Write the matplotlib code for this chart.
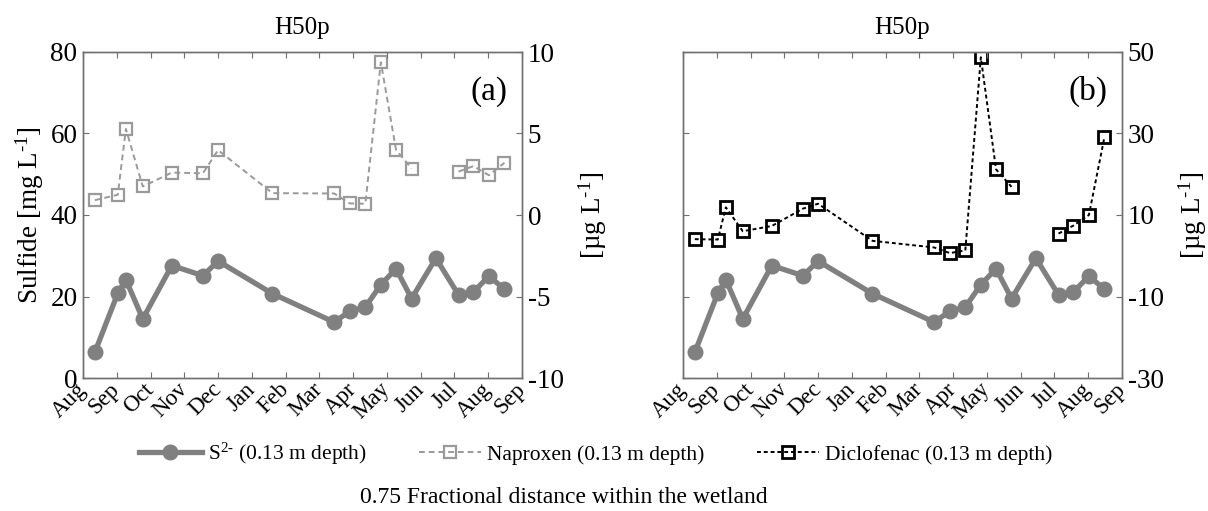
import numpy as np
import matplotlib
matplotlib.use("Agg")
import matplotlib.pyplot as plt

plt.rcParams['font.family'] = ['Liberation Serif', 'DejaVu Serif']
plt.rcParams['mathtext.fontset'] = 'custom'
plt.rcParams['mathtext.rm'] = 'Liberation Serif'
plt.rcParams['mathtext.it'] = 'Liberation Serif:italic'
plt.rcParams['axes.unicode_minus'] = False

# ---- data ----
month_labels = ['Aug', 'Sep', 'Oct', 'Nov', 'Dec', 'Jan', 'Feb', 'Mar',
                'Apr', 'May', 'Jun', 'Jul', 'Aug', 'Sep']
# sampling times in months since first August
sample_month = [0.35, 1.03, 1.27, 1.77, 2.63, 3.55, 4.0, 5.61, 7.44, 7.9,
                8.36, 8.82, 9.27, 9.73, 10.45, 11.12, 11.56, 12.02, 12.48]
sulfide = [6.3, 20.8, 24.1, 14.5, 27.6, 25.1, 28.7, 20.7, 13.7, 16.4,
           17.4, 22.9, 26.8, 19.5, 29.4, 20.4, 21.1, 25.0, 21.8]
naproxen = [0.91, 1.24, 5.28, 1.75, 2.6, 2.56, 3.98, 1.34, 1.32, 0.71,
            0.69, 9.37, 4.0, 2.85, np.nan, 2.66, 3.0, 2.44, 3.2]
diclofenac = [4.07, 3.98, 11.87, 6.02, 7.3, 11.55, 12.77, 3.66, 2.03, 0.66,
              1.3, 48.7, 21.2, 16.9, np.nan, 5.44, 7.4, 10.0, 29.1]

W, H = 1208, 511
fig = plt.figure(figsize=(W / 100, H / 100), dpi=100)

spine_col = '#707070'
s_col = '#808080'
nap_col = '#9a9a9a'


def setup(ax, ax2):
    for a in (ax, ax2):
        for sp in a.spines.values():
            sp.set_color(spine_col)
            sp.set_linewidth(1.0)
    ax.set_xlim(0, 13)
    ax.set_xticks(range(len(month_labels)))
    ax.set_xticklabels(month_labels, rotation=45, ha='right', va='center',
                       rotation_mode='anchor', fontsize=16.5)
    ax.tick_params(axis='x', direction='in', top=True, length=4,
                   color=spine_col, pad=6)
    ax.set_ylim(0, 80)
    ax.set_yticks([0, 20, 40, 60, 80])
    ax.tick_params(axis='y', direction='in', length=4, color=spine_col,
                   labelsize=19.5, pad=4)
    ax2.tick_params(axis='y', direction='in', length=4, color=spine_col,
                    labelsize=19.5, pad=4)


def panel(left, title, tag, series, color, ls, mec, mew, ylim2, yticks2,
          left_labels):
    ax = fig.add_axes([left / W, (H - 378) / H, 439 / W, (378 - 52) / H])
    ax2 = ax.twinx()
    setup(ax, ax2)
    ax.set_zorder(ax2.get_zorder() + 1)
    ax.patch.set_visible(False)
    l1, = ax.plot(sample_month, sulfide, color=s_col, lw=3.8, marker='o',
                  ms=10.5, mfc=s_col, mec=s_col,
                  label=r'S$^{2\text{-}}$ (0.13 m depth)')
    l2, = ax2.plot(sample_month, series, color=color, lw=1.4, ls=ls,
                   marker='s', ms=8, mfc='none', mec=mec, mew=mew)
    ax2.set_ylim(*ylim2)
    ax2.set_yticks(yticks2)
    ax2.set_ylabel(r'[µg L$^{\text{-}1}$]', fontsize=19.5)
    ax2.yaxis.set_label_coords(1.125, 0.5)
    if left_labels:
        ax.set_ylabel(r'Sulfide [mg L$^{\text{-}1}$]', fontsize=19.5)
        ax.yaxis.set_label_coords(-0.085, 0.5)
    else:
        ax.set_yticklabels([])
    ax.set_title(title, fontsize=18, pad=13)
    ax.text(1 - 14 / 439, 1 - 24 / 326, tag, transform=ax.transAxes,
            ha='right', va='top', fontsize=24)
    return l1, l2


s_line, nap_line = panel(83, 'H50p', '(a)', naproxen, nap_col, (0, (3, 2)),
                         nap_col, 1.6, (-10, 10), [-10, -5, 0, 5, 10], True)
_, dic_line = panel(683, 'H50p', '(b)', diclofenac, 'black', (0, (2, 1.5)),
                    'black', 2.0, (-30, 50), [-30, -10, 10, 30, 50], False)
nap_line.set_label('Naproxen (0.13 m depth)')
dic_line.set_label('Diclofenac (0.13 m depth)')

fig.legend(handles=[s_line, nap_line, dic_line], loc='center',
           bbox_to_anchor=(596 / W, (H - 454) / H), ncol=3, frameon=False,
           fontsize=15.5, handlelength=2.9, handletextpad=0.3,
           columnspacing=2.4, numpoints=1)

fig.text(564 / W, (H - 497) / H, '0.75 Fractional distance within the wetland',
         ha='center', va='center', fontsize=17)

fig.savefig('out.png', dpi=100)
